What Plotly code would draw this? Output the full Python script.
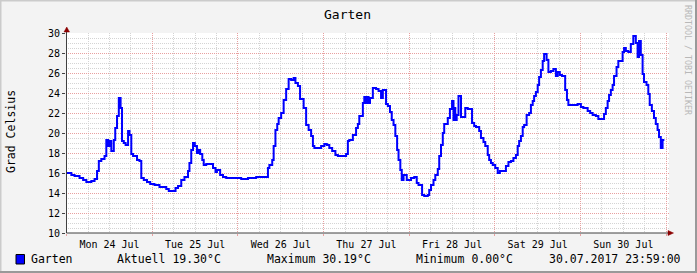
import pandas as pd
import plotly.graph_objects as go

# ---- data (hours since 24.07.2017 00:00, temperature in °C) ----
hours = [0.0, 1.3, 2.2, 3.6, 4.6, 5.5, 6.9, 7.8, 8.5, 9.0, 9.7, 10.6, 11.1, 11.6, 12.0, 12.5,
         13.2, 13.6, 14.1, 14.6, 15.1, 15.5, 16.0, 16.5, 17.2, 17.6, 18.1, 18.6, 19.7, 20.4,
         20.9, 21.6, 22.5, 23.4, 24.6, 26.0, 27.9, 28.6, 30.5, 31.2, 32.1, 33.0, 34.0, 34.4,
         34.9, 35.4, 35.9, 36.5, 36.9, 37.4, 38.0, 38.4, 39.1, 41.0, 41.7, 42.1, 43.0, 43.8,
         44.7, 48.9, 50.8, 53.1, 56.4, 56.8, 57.6, 58.0, 58.5, 59.0, 59.4, 60.1, 60.8, 61.5,
         62.2, 62.9, 63.6, 64.1, 64.8, 65.4, 66.4, 67.1, 67.8, 68.5, 69.0, 69.4, 71.3, 72.2,
         72.9, 73.6, 74.4, 75.3, 76.0, 78.3, 78.8, 79.2, 80.2, 81.1, 81.6, 82.0, 83.0, 83.4,
         83.9, 84.4, 84.6, 85.0, 85.8, 86.7, 87.4, 88.1, 88.6, 89.5, 90.0, 90.6, 91.1, 91.6,
         92.1, 92.6, 93.0, 93.5, 93.9, 94.4, 95.3, 96.5, 97.4, 98.1, 98.6, 99.6, 100.2, 101.2,
         101.6, 102.1, 102.8, 103.3, 104.0, 104.4, 104.9, 105.4, 105.8, 106.8, 107.4, 108.0,
         108.4, 108.6, 108.9, 109.3, 109.8, 110.5, 111.7, 112.4, 113.6, 114.2, 114.7, 115.6,
         116.1, 116.8, 117.3, 118.0, 118.4, 118.9, 119.4, 120.1, 120.8, 121.4, 123.1, 123.8,
         124.5, 125.2, 125.9, 126.4, 126.8, 127.3, 127.8, 128.2, 128.9, 129.6, 130.1, 130.6,
         131.0, 131.5, 132.0, 132.4, 132.9, 133.4, 133.8, 134.5, 135.0, 135.7, 136.4, 137.1,
         137.6, 138.2, 138.8, 139.7, 140.2, 140.6, 143.2, 144.1, 144.8, 146.0, 146.7, 147.4,
         148.3, 149.0, 150.6, 151.1, 151.6, 152.0, 152.5, 153.0, 153.4, 154.1, 154.6, 155.8,
         156.2, 156.7, 157.4, 158.1, 158.8, 159.5, 160.0, 160.4, 160.9, 161.4, 161.8, 162.5,
         163.0, 163.4, 164.0, 164.6, 165.1, 165.6, 166.0, 166.5, 166.7, 166.8, 167.0, 167.5]

temps = [16.0, 15.8, 15.7, 15.5, 15.3, 15.1, 15.2, 15.4, 16.2, 17.2, 17.4, 17.7, 19.3, 18.7, 19.2, 18.2,
         19.3, 20.5, 21.7, 23.5, 22.5, 19.2, 19.0, 18.8, 20.2, 19.8, 17.9, 17.7, 17.3, 17.2,
         15.5, 15.3, 15.1, 14.9, 14.8, 14.6, 14.4, 14.2, 14.5, 14.7, 15.3, 15.6, 16.2, 17.0,
         18.3, 19.0, 18.7, 18.0, 18.3, 17.9, 17.3, 16.8, 16.9, 16.5, 16.1, 16.3, 15.8, 15.6,
         15.5, 15.4, 15.5, 15.6, 16.5, 16.8, 17.3, 18.7, 20.3, 20.9, 21.5, 22.0, 23.3, 24.4,
         25.4, 25.3, 25.5, 25.0, 24.7, 23.4, 22.5, 20.8, 20.3, 19.7, 18.7, 18.5, 18.7, 18.9,
         18.8, 18.5, 18.2, 17.8, 17.7, 17.9, 19.2, 19.3, 19.8, 20.5, 20.9, 21.7, 23.0, 23.6,
         23.0, 23.6, 23.0, 23.5, 24.5, 24.4, 24.2, 23.5, 24.3, 22.9, 22.7, 22.1, 21.3, 20.8,
         19.7, 18.3, 17.3, 16.3, 15.3, 15.8, 15.3, 15.5, 15.6, 15.0, 14.8, 13.8, 13.7, 13.8,
         14.3, 14.8, 15.3, 15.8, 16.4, 17.7, 18.8, 20.0, 20.9, 21.5, 22.4, 23.2,
         21.3, 22.5, 21.3, 21.8, 23.7, 21.6, 22.5, 22.4, 21.0, 20.7, 20.6, 20.2,
         19.5, 19.1, 18.7, 17.8, 17.3, 17.0, 16.8, 16.5, 16.0, 16.2, 16.7, 17.1,
         17.2, 17.5, 17.8, 18.7, 19.2, 19.7, 20.6, 20.8, 21.8, 22.0, 22.8, 23.2,
         23.7, 24.1, 24.8, 25.6, 26.3, 27.2, 27.9, 27.3, 26.1, 26.2, 26.4, 25.7,
         26.1, 25.8, 25.7, 24.3, 23.3, 22.8, 22.9, 22.6, 22.5, 22.2, 22.0, 21.8,
         21.7, 21.4, 21.9, 22.5, 23.2, 23.8, 24.3, 24.8, 25.7, 26.6, 27.2, 28.1,
         28.5, 28.2, 28.1, 28.9, 29.7, 29.0, 27.6, 29.2, 27.8, 25.9, 25.1, 24.8,
         23.9, 22.8, 22.2, 21.5, 20.9, 20.3, 19.6, 18.5, 19.3, 18.5, 19.3, 19.3]

series_name = "Garten"
y_title = "Grad Celsius"
start = "2017-07-24 00:00"
aktuell = 19.30
maximum = 30.19
minimum = 0.00
stamp = "30.07.2017 23:59:00"

times = pd.Timestamp(start) + pd.to_timedelta(hours, unit="h")

# ---- geometry helpers (pixel -> paper) ----
W, H = 697, 273
L, R, T, B = 66, 28, 33, 40
PW, PH = W - L - R, H - T - B


def px(x):
    return (x - L) / PW


def py(y):
    return (H - B - y) / PH


FONT = "DejaVu Sans Mono"
MAJ = "#E8A0A0"
MIN = "#D4D4D4"

fig = go.Figure()
fig.add_trace(go.Scatter(x=times, y=temps, mode="lines", line_shape="hv",
                         line=dict(color="#0000FF", width=2), showlegend=False,
                         hoverinfo="skip"))

fig.update_layout(
    width=W, height=H,
    margin=dict(l=L, r=R, t=T, b=B, pad=0),
    paper_bgcolor="#F3F3F3", plot_bgcolor="#FFFFFF",
    font=dict(family=FONT, size=10, color="#000000"),
    showlegend=False,
    xaxis=dict(
        type="date",
        range=[pd.Timestamp(start) - pd.Timedelta(minutes=12),
               pd.Timestamp(start) + pd.Timedelta(hours=168, minutes=48)],
        tick0=start, dtick=86400000, ticklabelmode="period",
        tickformat="%a %d %b",
        showgrid=True, gridcolor=MAJ, griddash="1px,1px", gridwidth=1,
        ticks="outside", ticklen=2, tickcolor=MAJ,
        minor=dict(dtick=6 * 3600000, tick0=start, showgrid=True,
                   gridcolor=MIN, griddash="1px,1px", ticks=""),
        showline=False, zeroline=False,
        tickfont=dict(family=FONT, size=10, color="#000000"),
        fixedrange=True,
    ),
    yaxis=dict(
        range=[10, 30], tick0=10, dtick=2,
        showgrid=True, gridcolor=MAJ, griddash="1px,1px", gridwidth=1,
        ticks="outside", ticklen=3, tickcolor="#404040",
        minor=dict(dtick=0.5, showgrid=True, gridcolor=MIN, griddash="1px,1px", ticks=""),
        showline=False, zeroline=False,
        tickfont=dict(family=FONT, size=10, color="#000000"),
        fixedrange=True,
    ),
)

shapes = []
# axis lines
shapes.append(dict(type="line", xref="paper", yref="paper", x0=px(66.5), x1=px(670),
                   y0=py(233), y1=py(233), line=dict(color="#404040", width=1)))
shapes.append(dict(type="line", xref="paper", yref="paper", x0=px(66.5), x1=px(66.5),
                   y0=py(233), y1=py(30), line=dict(color="#404040", width=1)))
# arrows
shapes.append(dict(type="path", xref="paper", yref="paper",
                   path=f"M {px(64)} {py(32)} L {px(69.5)} {py(32)} L {px(66.75)} {py(27)} Z",
                   fillcolor="#8B0000", line=dict(color="#8B0000", width=0.5)))
shapes.append(dict(type="path", xref="paper", yref="paper",
                   path=f"M {px(668)} {py(230.5)} L {px(668)} {py(235.5)} L {px(673.5)} {py(233)} Z",
                   fillcolor="#8B0000", line=dict(color="#8B0000", width=0.5)))
# frame
shapes.append(dict(type="line", xref="paper", yref="paper", x0=px(0), x1=px(W),
                   y0=py(0.5), y1=py(0.5), line=dict(color="#CBCBCB", width=2)))
shapes.append(dict(type="line", xref="paper", yref="paper", x0=px(0.5), x1=px(0.5),
                   y0=py(0), y1=py(H), line=dict(color="#CBCBCB", width=2)))
shapes.append(dict(type="line", xref="paper", yref="paper", x0=px(W - 1), x1=px(W - 1),
                   y0=py(0), y1=py(H), line=dict(color="#999999", width=2)))
shapes.append(dict(type="line", xref="paper", yref="paper", x0=px(0), x1=px(W),
                   y0=py(H - 1), y1=py(H - 1), line=dict(color="#999999", width=2)))
# legend swatch
shapes.append(dict(type="rect", xref="paper", yref="paper", x0=px(16), x1=px(24.5),
                   y0=py(264), y1=py(254.5), fillcolor="#0000FF",
                   line=dict(color="#000000", width=1)))
fig.update_layout(shapes=shapes)

ann = []
ann.append(dict(text=series_name, x=px(347), y=py(14), xref="paper", yref="paper",
                showarrow=False, font=dict(family=FONT, size=13, color="#000000"),
                xanchor="center", yanchor="middle"))
ann.append(dict(text=y_title, x=px(11), y=py(132), xref="paper", yref="paper",
                showarrow=False, textangle=-90,
                font=dict(family=FONT, size=11.5, color="#000000"),
                xanchor="center", yanchor="middle"))
ann.append(dict(text="RRDTOOL / TOBI OETIKER", x=px(688), y=py(60), xref="paper",
                yref="paper", showarrow=False, textangle=90,
                font=dict(family=FONT, size=8.3, color="#B8B8B8"),
                xanchor="center", yanchor="middle"))
legend_items = [
    (29, series_name),
    (115, f"Aktuell {aktuell:.2f}°C"),
    (265, f"Maximum {maximum:.2f}°C"),
    (414, f"Minimum {minimum:.2f}°C"),
    (547, stamp),
]
for x0, txt in legend_items:
    ann.append(dict(text=txt, x=px(x0), y=py(259), xref="paper", yref="paper",
                    showarrow=False, font=dict(family=FONT, size=11.5, color="#000000"),
                    xanchor="left", yanchor="middle"))
fig.update_layout(annotations=ann)

fig.write_html("out.html", config=dict(displayModeBar=False))
